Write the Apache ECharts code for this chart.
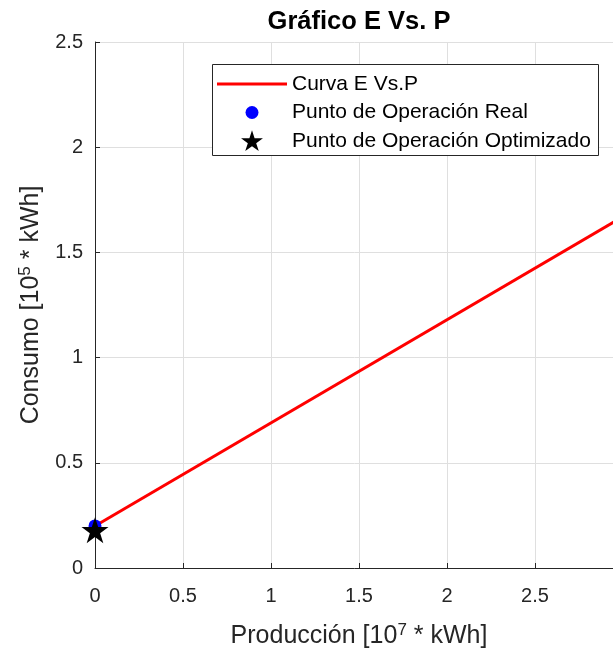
<!DOCTYPE html>
<html>
<head>
<meta charset="utf-8">
<script src="https://cdn.jsdelivr.net/npm/echarts@6/dist/echarts.min.js"></script>
<style>html,body{margin:0;padding:0;background:#fff}#c{width:613px;height:658px}</style>
</head>
<body>
<div id="c"></div>
<script>
// Data
const curveX = [0, 3];
const curveY = [0.2, 1.67];
const realPoint = [[0, 0.2]];
const optPoint = [[0, 0.18]];
const xTicks = [0, 0.5, 1, 1.5, 2, 2.5, 3];
const yTicks = [0, 0.5, 1, 1.5, 2, 2.5];
const names = ['Curva E Vs.P', 'Punto de Operación Real', 'Punto de Operación Optimizado'];

const FONT = '"Liberation Sans", Arial, Helvetica, sans-serif';
const AX = '#262626';
const GRIDC = '#dfdfdf';

function starPts(cx, cy, R) {
  const r = R * 0.382;
  let d = '';
  for (let k = 0; k < 10; k++) {
    const a = (-90 + k * 36) * Math.PI / 180;
    const rr = k % 2 === 0 ? R : r;
    d += (k === 0 ? 'M' : 'L') + (cx + rr * Math.cos(a)).toFixed(2) + ',' + (cy + rr * Math.sin(a)).toFixed(2) + ' ';
  }
  return d + 'Z';
}
// box corners as degenerate sub-paths so the icon keeps its place inside a 70-wide legend slot
function boxed(w, h, body) {
  return 'path://M0,0 L0,0 M' + w + ',' + h + ' L' + w + ',' + h + ' ' + body;
}
const STAR = 'path://' + starPts(100, 105, 100);
const legendStar = boxed(70, 24, starPts(35, 12.8, 11.5));
const legendDot = boxed(70, 20, 'M41.5,10 A6.5,6.5 0 1 1 28.5,10 A6.5,6.5 0 1 1 41.5,10 Z');

const chart = echarts.init(document.getElementById('c'), null, {renderer: 'canvas'});
const legendBase = {
  orient: 'vertical', left: 217, padding: 0, itemWidth: 70, itemGap: 5,
  textStyle: {fontFamily: FONT, fontSize: 21, color: '#000'},
  selectedMode: false, z: 10
};
const nameStyle = {fontFamily: FONT, fontSize: 25, color: AX,
  rich: {s: {fontFamily: FONT, fontSize: 17, color: AX, verticalAlign: 'top', padding: [0,0,12,0]}}};
chart.setOption({
  animation: false,
  backgroundColor: '#fff',
  title: {
    text: 'Gráfico E Vs. P', left: 359, top: 9, padding: 0, textAlign: 'center',
    textStyle: {fontFamily: FONT, fontSize: 25.5, fontWeight: 'bold', color: '#000'}
  },
  grid: {left: 95, top: 42, width: 528, height: 526, containLabel: false, outerBoundsMode: 'none'},
  xAxis: {
    type: 'value', min: xTicks[0], max: xTicks[xTicks.length - 1], interval: 0.5,
    name: 'Producción [10{s|7} * kWh]', nameLocation: 'middle', nameGap: 54,
    nameTextStyle: nameStyle,
    axisLine: {onZero: false, lineStyle: {color: AX, width: 1}},
    axisTick: {inside: true, length: 5, lineStyle: {color: AX}},
    axisLabel: {fontFamily: FONT, fontSize: 20, color: AX, margin: 18,
      formatter: v => String(v)},
    splitLine: {show: true, lineStyle: {color: GRIDC, width: 1}}
  },
  yAxis: {
    type: 'value', min: yTicks[0], max: yTicks[yTicks.length - 1], interval: 0.5,
    name: 'Consumo [10{s|5} * kWh]', nameLocation: 'middle', nameGap: 49,
    nameTextStyle: nameStyle,
    axisLine: {onZero: false, lineStyle: {color: AX, width: 1}},
    axisTick: {inside: true, length: 5, lineStyle: {color: AX}},
    axisLabel: {fontFamily: FONT, fontSize: 20, color: AX, margin: 12,
      formatter: v => String(v)},
    splitLine: {show: true, lineStyle: {color: GRIDC, width: 1}}
  },
  graphic: [{
    type: 'rect', z: 5, silent: true,
    shape: {x: 212.5, y: 64.5, width: 386, height: 91},
    style: {fill: '#fff', stroke: AX, lineWidth: 1}
  }],
  legend: [
    Object.assign({}, legendBase, {top: 73.5, itemHeight: 3,
      data: [{name: names[0], icon: 'rect', itemStyle: {color: '#ff0000'}}]}),
    Object.assign({}, legendBase, {top: 102, itemHeight: 20,
      data: [{name: names[1], icon: legendDot, itemStyle: {color: '#0000ff', opacity: 1}}]}),
    Object.assign({}, legendBase, {top: 129, itemHeight: 24,
      data: [{name: names[2], icon: legendStar, itemStyle: {color: '#000', opacity: 1}}]})
  ],
  series: [
    {
      name: names[0], type: 'line', showSymbol: false, symbol: 'none',
      data: curveX.map((x, i) => [x, curveY[i]]),
      lineStyle: {color: '#ff0000', width: 3}, itemStyle: {color: '#ff0000'}, z: 2
    },
    {
      name: names[1], type: 'scatter', data: realPoint, symbol: 'circle', symbolSize: 13,
      itemStyle: {color: '#0000ff', opacity: 1}, z: 3
    },
    {
      name: names[2], type: 'scatter', data: optPoint, symbol: STAR, symbolSize: [27, 26],
      itemStyle: {color: '#000', opacity: 1}, z: 4
    }
  ]
});
</script>
</body>
</html>
